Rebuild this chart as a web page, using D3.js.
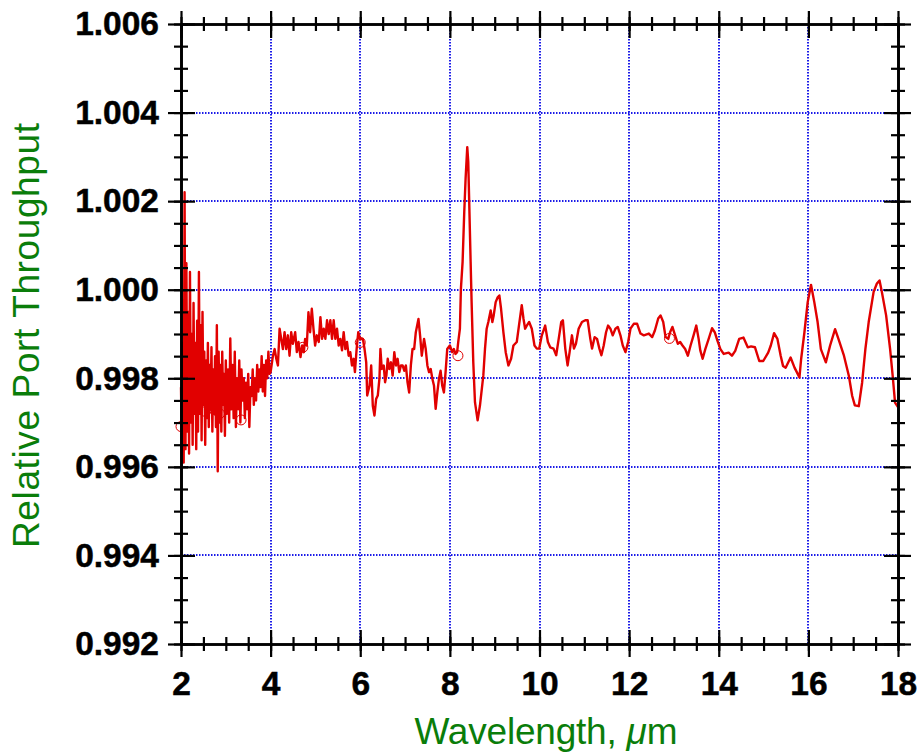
<!DOCTYPE html>
<html>
<head>
<meta charset="utf-8">
<script src="https://cdn.jsdelivr.net/npm/d3@7"></script>
<style>
    body { margin: 0; background: #fff; }
    .axis path, .axis line { stroke: #000; stroke-width: 2.2; fill: none; }
    .axis text { font-family: "Liberation Sans", Arial, sans-serif; font-weight: bold; font-size: 33.5px; fill: #000; stroke: #000; stroke-width: 0.5; }
    .grid line { stroke: #1c1ce8; stroke-width: 2; stroke-dasharray: 1.5 1.5; }
    .title { font-family: "Liberation Sans", Arial, sans-serif; font-size: 37px; fill: #0a7d0a; }
</style>
</head>
<body>
<div id="chart"></div>
<script>

// wavelength (um), relative throughput
const shortBand = [
    [2.00, 0.9978], [2.02, 0.9963], [2.04, 0.9988], [2.06, 0.9961], [2.08, 1.0022], [2.10, 0.9964],
    [2.12, 1.0006], [2.14, 0.9968], [2.16, 0.9995], [2.18, 0.9963], [2.20, 1.0004], [2.22, 0.9970],
    [2.24, 0.9990], [2.26, 0.9965], [2.28, 0.9997], [2.30, 0.9972], [2.32, 0.9988], [2.34, 0.9964],
    [2.36, 0.9993], [2.38, 0.9968], [2.40, 1.0004], [2.42, 0.9972], [2.44, 0.9992], [2.46, 0.9966],
    [2.48, 0.9995], [2.50, 0.9974], [2.52, 0.9986], [2.54, 0.9965], [2.56, 0.9984], [2.58, 0.9971],
    [2.60, 0.9988], [2.62, 0.9969], [2.64, 0.9983], [2.66, 0.9973], [2.68, 0.9987], [2.70, 0.9968],
    [2.72, 0.9982], [2.74, 0.9972], [2.76, 0.9985], [2.78, 0.9969], [2.80, 0.9992], [2.82, 0.9959],
    [2.84, 0.9986], [2.86, 0.9970], [2.88, 0.9983], [2.90, 0.9968], [2.92, 0.9986], [2.94, 0.9974],
    [2.96, 0.9981], [2.98, 0.9967], [3.00, 0.9984], [3.025, 0.9972], [3.05, 0.9982], [3.075, 0.9970],
    [3.10, 0.9989], [3.125, 0.9973], [3.15, 0.9983], [3.175, 0.9971], [3.20, 0.9986], [3.225, 0.9969],
    [3.25, 0.9980], [3.275, 0.9973], [3.30, 0.9984], [3.325, 0.9970], [3.35, 0.9982], [3.375, 0.9975],
    [3.40, 0.9980], [3.425, 0.9971], [3.45, 0.9979], [3.475, 0.9973], [3.50, 0.9981], [3.525, 0.9969],
    [3.55, 0.9978], [3.575, 0.9976], [3.60, 0.9982], [3.625, 0.9974], [3.65, 0.9980], [3.675, 0.9975],
    [3.70, 0.9983], [3.725, 0.9977], [3.75, 0.9982], [3.775, 0.9978], [3.80, 0.9985], [3.825, 0.9977],
    [3.85, 0.9983], [3.875, 0.9976], [3.90, 0.9984], [3.925, 0.9980], [3.95, 0.9986], [3.975, 0.9981]
];

const midBand = [
    [4.000, 0.99814], [4.052, 0.99851], [4.089, 0.99866], [4.126, 0.99844], [4.163, 0.99829], [4.200, 0.99912],
    [4.237, 0.99889], [4.274, 0.99866], [4.311, 0.99904], [4.348, 0.99866], [4.385, 0.99897], [4.422, 0.99851],
    [4.459, 0.99904], [4.496, 0.99878], [4.548, 0.99904], [4.585, 0.99859], [4.622, 0.99882], [4.667, 0.99848],
    [4.704, 0.99874], [4.741, 0.99859], [4.770, 0.99889], [4.807, 0.99874], [4.844, 0.99949], [4.881, 0.99904],
    [4.919, 0.99957], [4.956, 0.99912], [4.993, 0.99874], [5.030, 0.99897], [5.074, 0.99882], [5.111, 0.99938],
    [5.148, 0.99889], [5.185, 0.99912], [5.222, 0.99889], [5.259, 0.99931], [5.296, 0.99900], [5.333, 0.99931],
    [5.370, 0.99889], [5.407, 0.99931], [5.444, 0.99889], [5.481, 0.99912], [5.519, 0.99874], [5.556, 0.99889],
    [5.593, 0.99863], [5.630, 0.99904], [5.667, 0.99866], [5.704, 0.99882], [5.741, 0.99851], [5.778, 0.99859],
    [5.815, 0.99829], [5.852, 0.99844], [5.881, 0.99814], [5.919, 0.99866], [5.956, 0.99904], [6.000, 0.99888],
    [6.059, 0.99889], [6.096, 0.99866], [6.133, 0.99836], [6.155, 0.99761], [6.207, 0.99783], [6.244, 0.99829],
    [6.280, 0.99738], [6.317, 0.99716], [6.354, 0.99753], [6.391, 0.99761], [6.428, 0.99799], [6.450, 0.99866],
    [6.480, 0.99821], [6.524, 0.99829], [6.554, 0.99791], [6.583, 0.99806], [6.613, 0.99844], [6.649, 0.99821],
    [6.686, 0.99836], [6.723, 0.99806], [6.760, 0.99859], [6.797, 0.99829], [6.834, 0.99844], [6.871, 0.99814],
    [6.908, 0.99829], [6.945, 0.99829], [6.982, 0.99817], [7.018, 0.99829], [7.055, 0.99791], [7.092, 0.99768],
    [7.129, 0.99829], [7.166, 0.99866], [7.203, 0.99866], [7.240, 0.99904], [7.299, 0.99934], [7.336, 0.99896],
    [7.373, 0.99851], [7.424, 0.99889], [7.461, 0.99866], [7.498, 0.99829], [7.535, 0.99814], [7.572, 0.99821],
    [7.609, 0.99799], [7.646, 0.99783], [7.683, 0.99731], [7.720, 0.99768], [7.757, 0.99799], [7.793, 0.99817],
    [7.830, 0.99783], [7.867, 0.99768], [7.904, 0.99814], [7.941, 0.99866], [8.000, 0.99874], [8.052, 0.99859],
    [8.089, 0.99866], [8.125, 0.99855], [8.162, 0.99859], [8.187, 0.99882], [8.224, 0.99912]
];

const longBand = [
    [8.246, 1.00002], [8.284, 1.00063], [8.321, 1.00176], [8.351, 1.00251], [8.388, 1.00322], [8.410, 1.00289],
    [8.433, 1.00191], [8.463, 1.00063], [8.485, 0.99972], [8.522, 0.99837], [8.560, 0.99746], [8.619, 0.99705],
    [8.672, 0.99739], [8.746, 0.99806], [8.784, 0.99867], [8.821, 0.99912], [8.858, 0.99927], [8.910, 0.99953],
    [8.948, 0.99927], [8.978, 0.99942], [9.022, 0.99972], [9.067, 0.99983], [9.104, 0.99987], [9.142, 0.99957],
    [9.194, 0.99904], [9.246, 0.99859], [9.306, 0.99829], [9.366, 0.99844], [9.418, 0.99874], [9.493, 0.99882],
    [9.552, 0.99927], [9.604, 0.99965], [9.642, 0.99935], [9.679, 0.99912], [9.716, 0.99919], [9.769, 0.99927],
    [9.828, 0.99912], [9.888, 0.99874], [9.940, 0.99867], [9.993, 0.99867], [10.052, 0.99897], [10.127, 0.99919],
    [10.187, 0.99882], [10.239, 0.99870], [10.313, 0.99867], [10.373, 0.99852], [10.440, 0.99897], [10.485, 0.99927],
    [10.522, 0.99931], [10.575, 0.99867], [10.627, 0.99829], [10.672, 0.99859], [10.724, 0.99897], [10.769, 0.99867],
    [10.813, 0.99878], [10.873, 0.99912], [10.948, 0.99927], [11.022, 0.99931], [11.075, 0.99931], [11.134, 0.99889],
    [11.172, 0.99867], [11.231, 0.99893], [11.284, 0.99889], [11.336, 0.99867], [11.381, 0.99852], [11.433, 0.99874],
    [11.485, 0.99904], [11.530, 0.99919], [11.582, 0.99912], [11.634, 0.99897], [11.694, 0.99912], [11.746, 0.99916],
    [11.806, 0.99897], [11.858, 0.99874], [11.918, 0.99859], [11.978, 0.99882], [12.030, 0.99912], [12.104, 0.99923],
    [12.179, 0.99923], [12.254, 0.99901], [12.328, 0.99897], [12.440, 0.99901], [12.515, 0.99893], [12.575, 0.99908],
    [12.649, 0.99935], [12.701, 0.99942], [12.761, 0.99927], [12.813, 0.99893], [12.873, 0.99889], [12.914, 0.99904],
    [12.966, 0.99916], [13.026, 0.99897], [13.086, 0.99878], [13.139, 0.99882], [13.191, 0.99874], [13.251, 0.99866],
    [13.311, 0.99851], [13.371, 0.99874], [13.438, 0.99897], [13.498, 0.99919], [13.551, 0.99889], [13.588, 0.99863],
    [13.640, 0.99844], [13.700, 0.99866], [13.775, 0.99889], [13.850, 0.99913], [13.910, 0.99904], [13.970, 0.99885],
    [14.037, 0.99866], [14.110, 0.99855], [14.221, 0.99858], [14.294, 0.99851], [14.368, 0.99862], [14.456, 0.99889],
    [14.551, 0.99892], [14.647, 0.99870], [14.721, 0.99872], [14.809, 0.99870], [14.904, 0.99839], [14.993, 0.99839],
    [15.103, 0.99858], [15.162, 0.99874], [15.235, 0.99902], [15.309, 0.99889], [15.382, 0.99851], [15.434, 0.99828],
    [15.493, 0.99824], [15.603, 0.99847], [15.691, 0.99824], [15.801, 0.99802], [15.838, 0.99843], [15.912, 0.99904],
    [15.985, 0.99972], [16.059, 1.00011], [16.132, 0.99972], [16.206, 0.99927], [16.279, 0.99866], [16.390, 0.99836],
    [16.485, 0.99874], [16.596, 0.99911], [16.684, 0.99885], [16.794, 0.99851], [16.904, 0.99805], [16.978, 0.99760],
    [17.037, 0.99739], [17.125, 0.99737], [17.199, 0.99790], [17.272, 0.99866], [17.346, 0.99927], [17.456, 0.99995],
    [17.529, 1.00014], [17.588, 1.00021], [17.640, 0.99995], [17.735, 0.99942], [17.824, 0.99866], [17.882, 0.99805],
    [17.934, 0.99745], [18.000, 0.99735]
];

// open circles sitting on the trace
const markerPoints = [
    [2.00, 0.99691], [2.55, 0.99725], [2.86, 0.99720], [3.34, 0.99706],
    [4.72, 0.99870], [6.00, 0.99881], [8.18, 0.99851], [12.90, 0.99890]
];

const xTicks = [2, 4, 6, 8, 10, 12, 14, 16, 18];
const yTicks = [0.992, 0.994, 0.996, 0.998, 1.000, 1.002, 1.004, 1.006];

const xTitle = 'Wavelength, ';
const yTitle = 'Relative Port Throughput';


class ThroughputVis {
    constructor(parentElement, data, markers) {
        this.parentElement = parentElement;
        this.data = data;
        this.markers = markers;

        this.initVis();
    }

    initVis() {
        let vis = this;

        vis.width = 921;
        vis.height = 755;
        vis.margin = { top: 24, right: 23, bottom: 111, left: 181 };

        vis.svg = d3.select('#' + vis.parentElement)
            .append('svg')
            .attr('width', vis.width)
            .attr('height', vis.height);

        vis.x = d3.scaleLinear()
            .domain([xTicks[0], xTicks[xTicks.length - 1]])
            .range([vis.margin.left, vis.width - vis.margin.right]);

        vis.y = d3.scaleLinear()
            .domain([yTicks[0], yTicks[yTicks.length - 1]])
            .range([vis.height - vis.margin.bottom, vis.margin.top]);

        vis.trend = d3.line()
            .x(d => vis.x(d[0]))
            .y(d => vis.y(d[1]));

        vis.updateVis();
    }

    updateVis() {
        let vis = this;
        const [x0, x1] = vis.x.range();
        const [y1, y0] = vis.y.range();

        // dotted grid
        let grid = vis.svg.append('g').attr('class', 'grid');
        grid.selectAll('.vgrid')
            .data(xTicks.slice(1, -1))
            .join('line')
            .attr('x1', d => Math.round(vis.x(d)))
            .attr('x2', d => Math.round(vis.x(d)))
            .attr('y1', y0)
            .attr('y2', y1);
        grid.selectAll('.hgrid')
            .data(yTicks.slice(1, -1))
            .join('line')
            .attr('x1', x0)
            .attr('x2', x1)
            .attr('y1', d => Math.round(vis.y(d)))
            .attr('y2', d => Math.round(vis.y(d)));

        // trace
        vis.svg.append('path')
            .datum(vis.data)
            .attr('d', vis.trend)
            .attr('fill', 'none')
            .attr('stroke', '#e10000')
            .attr('stroke-width', 2.4)
            .attr('stroke-linejoin', 'round');

        vis.svg.selectAll('.marker')
            .data(vis.markers)
            .join('circle')
            .attr('class', 'marker')
            .attr('cx', d => vis.x(d[0]))
            .attr('cy', d => vis.y(d[1]))
            .attr('r', 5)
            .attr('fill', 'none')
            .attr('stroke', '#e10000')
            .attr('stroke-width', 1);

        // frame: four axes, ticks crossing the line
        vis.frameAxis(vis.x, 'bottom', `translate(0,${y1})`, xTicks, d3.format('d'), 14);
        vis.frameAxis(vis.x, 'top', `translate(0,${y0})`, xTicks, null);
        vis.frameAxis(vis.y, 'left', `translate(${x0},0)`, yTicks, d3.format('.3f'), 9);
        vis.frameAxis(vis.y, 'right', `translate(${x1},0)`, yTicks, null);

        // titles
        let xt = vis.svg.append('text')
            .attr('class', 'title')
            .attr('x', 546)
            .attr('y', 744)
            .attr('text-anchor', 'middle')
            .attr('textLength', 263)
            .text(xTitle);
        xt.append('tspan').attr('font-style', 'italic').text('\u03bc');
        xt.append('tspan').text('m');

        vis.svg.append('text')
            .attr('class', 'title')
            .attr('transform', 'translate(39,335.5) rotate(-90)')
            .attr('text-anchor', 'middle')
            .attr('textLength', 425)
            .text(yTitle);
    }

    frameAxis(scale, side, transform, majors, fmt, pad) {
        let vis = this;
        const make = { bottom: d3.axisBottom, top: d3.axisTop, left: d3.axisLeft, right: d3.axisRight };
        const opposite = { bottom: 'top', top: 'bottom', left: 'right', right: 'left' };
        const minors = scale.ticks(side === 'bottom' || side === 'top' ? 32 : 28);

        let g = vis.svg.append('g').attr('class', 'axis').attr('transform', transform);

        g.append('g').call(make[side](scale).tickValues(majors).tickSize(13).tickSizeOuter(0)
            .tickPadding(pad || 0).tickFormat(fmt || ''));
        g.append('g').call(make[opposite[side]](scale).tickValues(majors).tickSize(14).tickSizeOuter(0).tickFormat(''));
        g.append('g').call(make[side](scale).tickValues(minors).tickSize(7).tickSizeOuter(0).tickFormat(''));
        g.append('g').call(make[opposite[side]](scale).tickValues(minors).tickSize(7).tickSizeOuter(0).tickFormat(''));
    }
}

new ThroughputVis('chart', shortBand.concat(midBand, longBand), markerPoints);

</script>
</body>
</html>
